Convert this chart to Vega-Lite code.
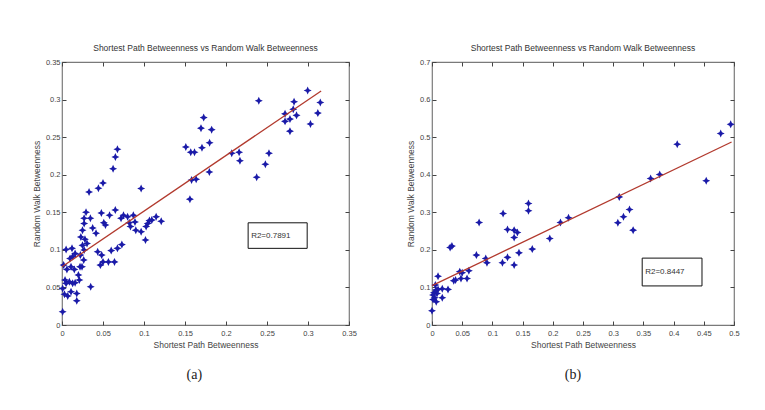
{
  "$schema": "https://vega.github.io/schema/vega-lite/v6.json",
  "background": "white",
  "padding": {"left": 31, "top": 42, "right": 5, "bottom": 5},
  "config": {
    "view": {"stroke": "#7a7a7a", "strokeWidth": 1.2},
    "font": "Liberation Sans",
    "axis": {"grid": false, "domain": false, "labelFont": "Liberation Sans", "labelFontSize": 7.5, "labelColor": "#444", "titleFont": "Liberation Sans", "titleFontSize": 8.5, "titleFontWeight": "normal", "titleColor": "#444", "labelFlush": false, "labelOverlap": false, "tickColor": "#444"}
  },
  "datasets": {
    "a_pts": [
      {"x": 0.2996, "y": 0.312}, {"x": 0.315, "y": 0.296}, {"x": 0.312, "y": 0.282}, {"x": 0.303, "y": 0.2675},
      {"x": 0.283, "y": 0.297}, {"x": 0.282, "y": 0.287}, {"x": 0.286, "y": 0.279}, {"x": 0.278, "y": 0.274},
      {"x": 0.272, "y": 0.281}, {"x": 0.272, "y": 0.271}, {"x": 0.278, "y": 0.258}, {"x": 0.240, "y": 0.2985},
      {"x": 0.207, "y": 0.2285}, {"x": 0.216, "y": 0.230}, {"x": 0.217, "y": 0.2187}, {"x": 0.2524, "y": 0.2285},
      {"x": 0.248, "y": 0.214}, {"x": 0.2374, "y": 0.1965},
      {"x": 0.1728, "y": 0.276}, {"x": 0.1825, "y": 0.260}, {"x": 0.180, "y": 0.2426}, {"x": 0.1707, "y": 0.236},
      {"x": 0.1695, "y": 0.262}, {"x": 0.1797, "y": 0.2036},
      {"x": 0.151, "y": 0.237}, {"x": 0.157, "y": 0.230}, {"x": 0.1616, "y": 0.230},
      {"x": 0.158, "y": 0.193}, {"x": 0.1636, "y": 0.194}, {"x": 0.156, "y": 0.1675},
      {"x": 0.0965, "y": 0.1817}, {"x": 0.0676, "y": 0.234}, {"x": 0.0651, "y": 0.2237}, {"x": 0.0623, "y": 0.208},
      {"x": 0.050, "y": 0.189}, {"x": 0.0444, "y": 0.182}, {"x": 0.033, "y": 0.177},
      {"x": 0.065, "y": 0.153}, {"x": 0.058, "y": 0.146}, {"x": 0.048, "y": 0.149}, {"x": 0.051, "y": 0.136},
      {"x": 0.053, "y": 0.133}, {"x": 0.072, "y": 0.142}, {"x": 0.075, "y": 0.146}, {"x": 0.080, "y": 0.144},
      {"x": 0.082, "y": 0.136}, {"x": 0.087, "y": 0.146}, {"x": 0.089, "y": 0.137}, {"x": 0.0835, "y": 0.131},
      {"x": 0.090, "y": 0.126}, {"x": 0.0965, "y": 0.124}, {"x": 0.1018, "y": 0.113}, {"x": 0.1026, "y": 0.131},
      {"x": 0.1046, "y": 0.135}, {"x": 0.1095, "y": 0.1396}, {"x": 0.1148, "y": 0.144}, {"x": 0.121, "y": 0.138},
      {"x": 0.1066, "y": 0.139},
      {"x": 0.073, "y": 0.107}, {"x": 0.0676, "y": 0.102}, {"x": 0.060, "y": 0.099}, {"x": 0.064, "y": 0.084},
      {"x": 0.0566, "y": 0.084}, {"x": 0.050, "y": 0.084}, {"x": 0.0468, "y": 0.0797}, {"x": 0.0484, "y": 0.093},
      {"x": 0.0435, "y": 0.0975}, {"x": 0.035, "y": 0.051},
      {"x": 0.0293, "y": 0.150}, {"x": 0.027, "y": 0.142}, {"x": 0.0346, "y": 0.142}, {"x": 0.0374, "y": 0.129},
      {"x": 0.0415, "y": 0.122}, {"x": 0.027, "y": 0.135}, {"x": 0.025, "y": 0.126}, {"x": 0.023, "y": 0.117},
      {"x": 0.028, "y": 0.114}, {"x": 0.0305, "y": 0.1085}, {"x": 0.025, "y": 0.106}, {"x": 0.027, "y": 0.0997},
      {"x": 0.0224, "y": 0.093}, {"x": 0.0265, "y": 0.0864}, {"x": 0.022, "y": 0.0775}, {"x": 0.0244, "y": 0.0775},
      {"x": 0.020, "y": 0.0665}, {"x": 0.0212, "y": 0.0598}, {"x": 0.015, "y": 0.074}, {"x": 0.011, "y": 0.0775},
      {"x": 0.0098, "y": 0.0886}, {"x": 0.0122, "y": 0.102}, {"x": 0.005, "y": 0.1006}, {"x": 0.013, "y": 0.091},
      {"x": 0.016, "y": 0.095}, {"x": 0.002, "y": 0.0797}, {"x": 0.006, "y": 0.074}, {"x": 0.0037, "y": 0.0598},
      {"x": 0.009, "y": 0.0576}, {"x": 0.013, "y": 0.0554}, {"x": 0.016, "y": 0.0563}, {"x": 0.0008, "y": 0.0487},
      {"x": 0.003, "y": 0.0408}, {"x": 0.007, "y": 0.0385}, {"x": 0.011, "y": 0.0443}, {"x": 0.018, "y": 0.042},
      {"x": 0.018, "y": 0.0323}, {"x": 0.0008, "y": 0.0177}, {"x": 0.005, "y": 0.0554}
    ],
    "a_fit": [{"x": 0.0, "y": 0.0775}, {"x": 0.316, "y": 0.3115}],
    "a_box": [{"x1": 0.227, "x2": 0.299, "y1": 0.102, "y2": 0.136, "ym": 0.119, "label": "R2=0.7891"}],
    "b_pts": [
      {"x": 0.4945, "y": 0.534}, {"x": 0.478, "y": 0.5095}, {"x": 0.406, "y": 0.481}, {"x": 0.454, "y": 0.3837},
      {"x": 0.377, "y": 0.4005}, {"x": 0.362, "y": 0.390}, {"x": 0.310, "y": 0.341}, {"x": 0.3077, "y": 0.272},
      {"x": 0.317, "y": 0.288}, {"x": 0.327, "y": 0.3075}, {"x": 0.333, "y": 0.2525}, {"x": 0.226, "y": 0.2853},
      {"x": 0.2127, "y": 0.273}, {"x": 0.195, "y": 0.230}, {"x": 0.1597, "y": 0.3234}, {"x": 0.1597, "y": 0.304},
      {"x": 0.166, "y": 0.202}, {"x": 0.1177, "y": 0.297}, {"x": 0.125, "y": 0.254}, {"x": 0.136, "y": 0.2525},
      {"x": 0.1414, "y": 0.246}, {"x": 0.136, "y": 0.233}, {"x": 0.144, "y": 0.192}, {"x": 0.125, "y": 0.180},
      {"x": 0.1166, "y": 0.1657}, {"x": 0.136, "y": 0.1595}, {"x": 0.078, "y": 0.273}, {"x": 0.0735, "y": 0.186},
      {"x": 0.089, "y": 0.177}, {"x": 0.091, "y": 0.1657}, {"x": 0.033, "y": 0.210}, {"x": 0.030, "y": 0.2065},
      {"x": 0.046, "y": 0.142}, {"x": 0.050, "y": 0.139}, {"x": 0.048, "y": 0.124}, {"x": 0.058, "y": 0.124},
      {"x": 0.061, "y": 0.1444}, {"x": 0.039, "y": 0.1196}, {"x": 0.036, "y": 0.118}, {"x": 0.010, "y": 0.130},
      {"x": 0.0265, "y": 0.0948}, {"x": 0.017, "y": 0.0966}, {"x": 0.010, "y": 0.0948}, {"x": 0.017, "y": 0.0727},
      {"x": 0.0083, "y": 0.084}, {"x": 0.0055, "y": 0.1063}, {"x": 0.0033, "y": 0.086}, {"x": 0.0044, "y": 0.0727},
      {"x": 0.0017, "y": 0.068}, {"x": 0.007, "y": 0.062}, {"x": 0.0, "y": 0.038}, {"x": 0.0017, "y": 0.080},
      {"x": 0.0066, "y": 0.093}
    ],
    "b_fit": [{"x": 0.0, "y": 0.1046}, {"x": 0.496, "y": 0.487}],
    "b_box": [{"x1": 0.348, "x2": 0.447, "y1": 0.104, "y2": 0.178, "ym": 0.141, "label": "R2=0.8447"}]
  },
  "spacing": 48,
  "hconcat": [
    {
      "title": {"text": "(a)", "orient": "bottom", "anchor": "middle", "font": "Liberation Serif", "fontSize": 14, "fontWeight": "normal", "color": "#222", "offset": 18},
      "vconcat": [
        {
          "width": 287, "height": 263,
          "title": {"text": "Shortest Path Betweenness vs Random Walk Betweenness", "anchor": "middle", "fontSize": 8.5, "fontWeight": "normal", "color": "#333", "offset": 6},
          "layer": [
            {
              "data": {"name": "a_pts"},
              "mark": {"type": "point", "shape": "M0,-1L0.32,-0.32L1,0L0.32,0.32L0,1L-0.32,0.32L-1,0L-0.32,-0.32Z", "filled": true, "size": 64, "color": "#1a1aa8", "opacity": 1},
              "encoding": {
                "x": {"field": "x", "type": "quantitative", "scale": {"domain": [0, 0.35], "nice": false}, "axis": {"values": [0, 0.05, 0.1, 0.15, 0.2, 0.25, 0.3, 0.35], "format": "~g", "ticks": false, "labelPadding": 4, "title": "Shortest Path Betweenness", "titlePadding": 4}},
                "y": {"field": "y", "type": "quantitative", "scale": {"domain": [0, 0.35], "nice": false}, "axis": {"values": [0, 0.05, 0.1, 0.15, 0.2, 0.25, 0.3, 0.35], "format": "~g", "ticks": false, "labelPadding": 2, "title": "Random Walk Betweenness", "titlePadding": 4}}
              }
            },
            {
              "data": {"name": "a_fit"},
              "mark": {"type": "line", "color": "#b23a2e", "strokeWidth": 1.3},
              "encoding": {
                "x": {"field": "x", "type": "quantitative", "scale": {"domain": [0, 0.35], "nice": false}, "axis": {"orient": "bottom", "values": [0, 0.05, 0.1, 0.15, 0.2, 0.25, 0.3, 0.35], "labels": false, "tickSize": -4, "title": null}},
                "y": {"field": "y", "type": "quantitative", "scale": {"domain": [0, 0.35], "nice": false}, "axis": {"orient": "left", "values": [0, 0.05, 0.1, 0.15, 0.2, 0.25, 0.3, 0.35], "labels": false, "tickSize": -4, "title": null}}
              }
            },
            {
              "data": {"name": "a_box"},
              "mark": {"type": "rect", "fill": "white", "stroke": "#111", "strokeWidth": 1},
              "encoding": {
                "x": {"field": "x1", "type": "quantitative", "scale": {"domain": [0, 0.35], "nice": false}, "axis": {"orient": "top", "values": [0, 0.05, 0.1, 0.15, 0.2, 0.25, 0.3, 0.35], "labels": false, "tickSize": -4, "title": null}},
                "x2": {"field": "x2"},
                "y": {"field": "y1", "type": "quantitative", "scale": {"domain": [0, 0.35], "nice": false}, "axis": {"orient": "right", "values": [0, 0.05, 0.1, 0.15, 0.2, 0.25, 0.3, 0.35], "labels": false, "tickSize": -4, "title": null}},
                "y2": {"field": "y2"}
              }
            },
            {
              "data": {"name": "a_box"},
              "mark": {"type": "text", "align": "left", "baseline": "middle", "fontSize": 8, "dx": 3, "color": "#333"},
              "encoding": {
                "x": {"field": "x1", "type": "quantitative", "scale": {"domain": [0, 0.35], "nice": false}, "axis": null},
                "y": {"field": "ym", "type": "quantitative", "scale": {"domain": [0, 0.35], "nice": false}, "axis": null},
                "text": {"field": "label"}
              }
            }
          ],
          "resolve": {"axis": {"x": "independent", "y": "independent"}}
        }
      ]
    },
    {
      "title": {"text": "(b)", "orient": "bottom", "anchor": "middle", "font": "Liberation Serif", "fontSize": 14, "fontWeight": "normal", "color": "#222", "offset": 18},
      "vconcat": [
        {
          "width": 302, "height": 263,
          "title": {"text": "Shortest Path Betweenness vs Random Walk Betweenness", "anchor": "middle", "fontSize": 8.5, "fontWeight": "normal", "color": "#333", "offset": 6},
          "layer": [
            {
              "data": {"name": "b_pts"},
              "mark": {"type": "point", "shape": "M0,-1L0.32,-0.32L1,0L0.32,0.32L0,1L-0.32,0.32L-1,0L-0.32,-0.32Z", "filled": true, "size": 64, "color": "#1a1aa8", "opacity": 1},
              "encoding": {
                "x": {"field": "x", "type": "quantitative", "scale": {"domain": [0, 0.5], "nice": false}, "axis": {"values": [0, 0.05, 0.1, 0.15, 0.2, 0.25, 0.3, 0.35, 0.4, 0.45, 0.5], "format": "~g", "ticks": false, "labelPadding": 4, "title": "Shortest Path Betweenness", "titlePadding": 4}},
                "y": {"field": "y", "type": "quantitative", "scale": {"domain": [0, 0.7], "nice": false}, "axis": {"values": [0, 0.1, 0.2, 0.3, 0.4, 0.5, 0.6, 0.7], "format": "~g", "ticks": false, "labelPadding": 2, "title": "Random Walk Betweenness", "titlePadding": 4}}
              }
            },
            {
              "data": {"name": "b_fit"},
              "mark": {"type": "line", "color": "#b23a2e", "strokeWidth": 1.3},
              "encoding": {
                "x": {"field": "x", "type": "quantitative", "scale": {"domain": [0, 0.5], "nice": false}, "axis": {"orient": "bottom", "values": [0, 0.05, 0.1, 0.15, 0.2, 0.25, 0.3, 0.35, 0.4, 0.45, 0.5], "labels": false, "tickSize": -4, "title": null}},
                "y": {"field": "y", "type": "quantitative", "scale": {"domain": [0, 0.7], "nice": false}, "axis": {"orient": "left", "values": [0, 0.1, 0.2, 0.3, 0.4, 0.5, 0.6, 0.7], "labels": false, "tickSize": -4, "title": null}}
              }
            },
            {
              "data": {"name": "b_box"},
              "mark": {"type": "rect", "fill": "white", "stroke": "#111", "strokeWidth": 1},
              "encoding": {
                "x": {"field": "x1", "type": "quantitative", "scale": {"domain": [0, 0.5], "nice": false}, "axis": {"orient": "top", "values": [0, 0.05, 0.1, 0.15, 0.2, 0.25, 0.3, 0.35, 0.4, 0.45, 0.5], "labels": false, "tickSize": -4, "title": null}},
                "x2": {"field": "x2"},
                "y": {"field": "y1", "type": "quantitative", "scale": {"domain": [0, 0.7], "nice": false}, "axis": {"orient": "right", "values": [0, 0.1, 0.2, 0.3, 0.4, 0.5, 0.6, 0.7], "labels": false, "tickSize": -4, "title": null}},
                "y2": {"field": "y2"}
              }
            },
            {
              "data": {"name": "b_box"},
              "mark": {"type": "text", "align": "left", "baseline": "middle", "fontSize": 8, "dx": 3, "color": "#333"},
              "encoding": {
                "x": {"field": "x1", "type": "quantitative", "scale": {"domain": [0, 0.5], "nice": false}, "axis": null},
                "y": {"field": "ym", "type": "quantitative", "scale": {"domain": [0, 0.7], "nice": false}, "axis": null},
                "text": {"field": "label"}
              }
            }
          ],
          "resolve": {"axis": {"x": "independent", "y": "independent"}}
        }
      ]
    }
  ]
}
